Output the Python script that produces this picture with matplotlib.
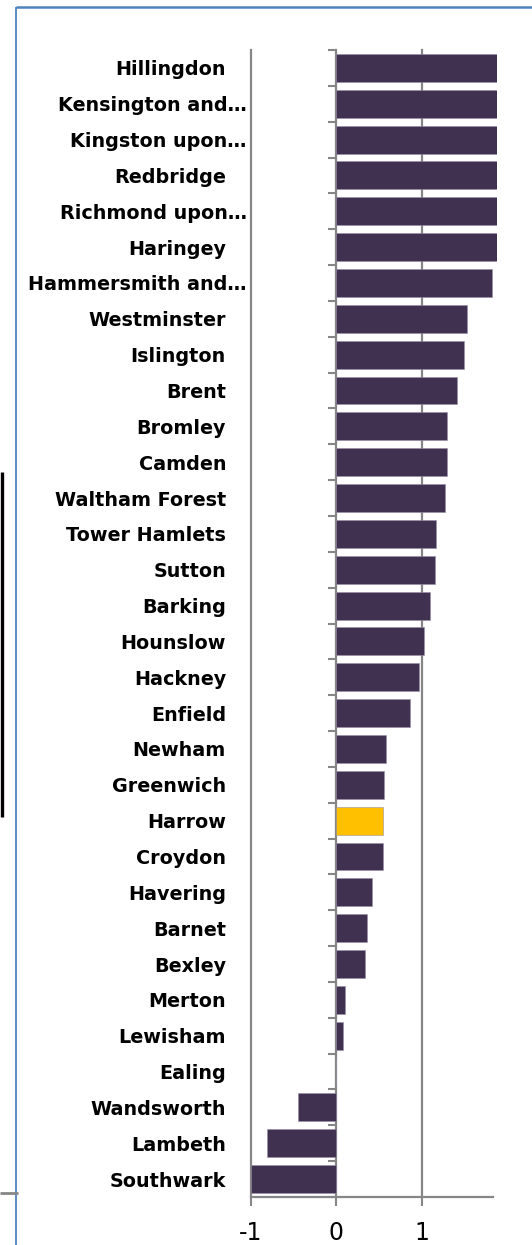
import numpy as np
import matplotlib
matplotlib.use("Agg")
import matplotlib.pyplot as plt
from matplotlib.lines import Line2D

# London boroughs, top to bottom
boroughs = [
    "Hillingdon", "Kensington and…", "Kingston upon…", "Redbridge",
    "Richmond upon…", "Haringey", "Hammersmith and…", "Westminster",
    "Islington", "Brent", "Bromley", "Camden", "Waltham Forest",
    "Tower Hamlets", "Sutton", "Barking", "Hounslow", "Hackney", "Enfield",
    "Newham", "Greenwich", "Harrow", "Croydon", "Havering", "Barnet",
    "Bexley", "Merton", "Lewisham", "Ealing", "Wandsworth", "Lambeth",
    "Southwark",
]
values = [
    1.90, 1.90, 1.90, 1.90, 1.90, 1.90, 1.82, 1.525, 1.49, 1.41, 1.30,
    1.29, 1.27, 1.17, 1.16, 1.09, 1.02, 0.97, 0.86, 0.58, 0.56, 0.55,
    0.54, 0.42, 0.36, 0.34, 0.106, 0.08, 0.0, -0.45, -0.815, -1.0,
]
highlight = "Harrow"
x_ticks = [-1, 0, 1]
x_range = (-1.0, 1.88)

W, H = 532, 1245
BAR = "#403151"
GOLD = "#FFC000"
GREY = "#868686"
BLUE = "#4F81BD"

plt.rcParams["font.family"] = ["DejaVu Sans"]

fig = plt.figure(figsize=(W / 100, H / 100), dpi=100)
ax = fig.add_axes([251 / W, 48 / H, (497 - 251) / W, (1197 - 50) / H])

n = len(boroughs)
ypos = np.arange(n)[::-1]
colors = [GOLD if b == highlight else BAR for b in boroughs]
ax.barh(ypos, values, height=0.78, color=colors, edgecolor="#9a8fa8",
        linewidth=0.4, zorder=3)

ax.set_xlim(*x_range)
ax.set_ylim(-0.5, n - 0.5)

# vertical gridlines
for xv in x_ticks:
    if xv != 0:
        ax.axvline(xv, color=GREY, lw=1.6, zorder=1, clip_on=False)

# category labels
ax.set_yticks(ypos)
ax.set_yticklabels(boroughs, fontsize=13.8, fontweight="bold")
ax.tick_params(axis="y", length=0)
for tick, name in zip(ax.yaxis.get_major_ticks(), boroughs):
    tick.set_pad(3 if name.endswith("…") else 18)

# value axis
ax.set_xticks(x_ticks)
ax.set_xticklabels([str(v) for v in x_ticks], fontsize=17)
ax.tick_params(axis="x", direction="out", length=6.5, width=1.5,
               color=GREY, pad=11)
for side in ("top", "right", "left"):
    ax.spines[side].set_visible(False)
ax.spines["bottom"].set_color(GREY)
ax.spines["bottom"].set_linewidth(1.6)
ax.spines["bottom"].set_bounds(x_range[0], 1.83)

# category axis line at zero with boundary ticks
loc = (0 - x_range[0]) / (x_range[1] - x_range[0])
sec = ax.secondary_yaxis(loc)
sec.set_yticks(np.arange(n + 1) - 0.5)
sec.set_yticklabels([])
sec.tick_params(axis="y", direction="out", length=5.5, width=1.5, color=GREY)
sec.spines["left"].set_color(GREY)
sec.spines["left"].set_linewidth(1.6)

# chart frame and side marks
def fig_line(x0, y0, x1, y1, color, lw):
    fig.add_artist(Line2D([x0 / W, x1 / W], [1 - y0 / H, 1 - y1 / H],
                          transform=fig.transFigure, color=color, lw=lw,
                          solid_capstyle="butt"))

fig_line(16, 7, 16, H, BLUE, 1.3)
fig_line(16, 7, W, 7, BLUE, 1.8)
fig_line(1.5, 472, 1.5, 817, "black", 2.4)
fig_line(0, 1193, 18, 1193, GREY, 2.0)

fig.savefig("out.png", dpi=100)
